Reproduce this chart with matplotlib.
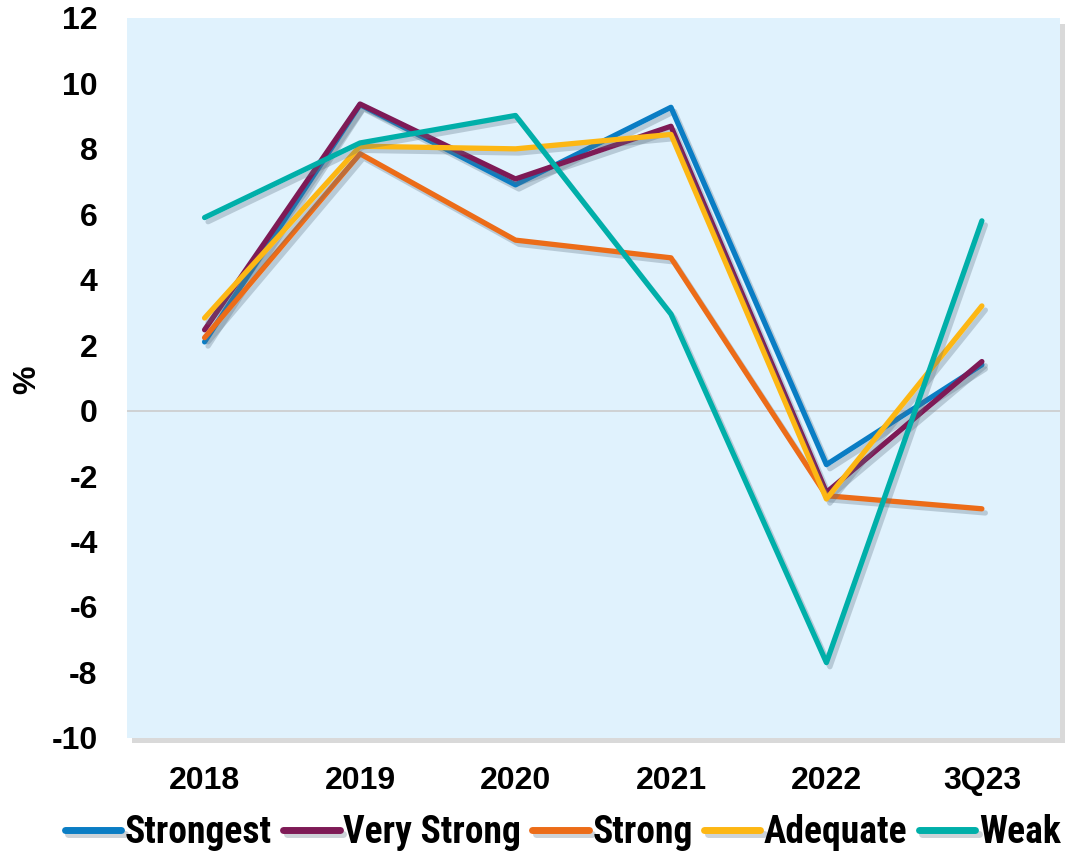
import matplotlib.pyplot as plt
import matplotlib.patheffects as pe

# series values (%)
periods = ["2018", "2019", "2020", "2021", "2022", "3Q23"]
strongest = [2.1, 9.35, 6.9, 9.27, -1.65, 1.4]
very_strong = [2.47, 9.37, 7.08, 8.69, -2.5, 1.5]
strong = [2.23, 7.85, 5.21, 4.67, -2.6, -3.0]
adequate = [2.83, 8.08, 8.0, 8.44, -2.7, 3.2]
weak = [5.9, 8.18, 9.02, 2.95, -7.7, 5.8]

names = ["Strongest", "Very Strong", "Strong", "Adequate", "Weak"]
colors = ["#0A7DC4", "#7E1A56", "#EC6C18", "#FDB714", "#00AFA9"]
series = [strongest, very_strong, strong, adequate, weak]

plt.rcParams["font.family"] = ["Liberation Sans Narrow", "Roboto Condensed", "Liberation Sans", "DejaVu Sans"]
plt.rcParams["font.weight"] = "bold"
plt.rcParams["axes.unicode_minus"] = False

fig = plt.figure(figsize=(10.66, 8.55), dpi=100)
ax = fig.add_axes([0.119, 0.137, 0.875, 0.842])
ax.set_facecolor("#E0F2FD")
ax.patch.set_path_effects([pe.SimplePatchShadow(offset=(4, -4), shadow_rgbFace="#a0a0a0", alpha=0.4),
                           pe.Normal()])

ax.axhline(0, color="#CCCCCC", lw=1.2, zorder=1)

x = range(len(periods))
for vals, name, c in zip(series, names, colors):
    ax.plot(x, vals, color=c, lw=3.8, label=name, solid_capstyle="round", zorder=3,
            path_effects=[pe.SimpleLineShadow(offset=(2.5, -3), shadow_color="#5a6f80", alpha=0.3),
                          pe.Normal()])

ax.set_xlim(-0.5, 5.5)
ax.set_ylim(-10, 12)
ax.set_yticks(range(-10, 13, 2))
ax.set_xticks(list(x))
ax.set_xticklabels(periods)
ax.tick_params(axis="y", length=0, labelsize=23, pad=21)
ax.tick_params(axis="x", length=0, labelsize=23, pad=20)
for s in ax.spines.values():
    s.set_visible(False)
for lab in ax.get_xticklabels() + ax.get_yticklabels():
    lab.set_fontfamily(["Liberation Sans", "DejaVu Sans"])
    lab.set_fontweight("bold")

fig.text(0.026, 0.556, "%", rotation=90, fontsize=23, fontweight="bold",
         family=["Liberation Sans", "DejaVu Sans"], ha="center", va="center")

leg = fig.legend(loc="center", bbox_to_anchor=(0.528, 0.026), ncol=5, frameon=False,
                 handlelength=1.5, handletextpad=0.1, columnspacing=0.3,
                 borderpad=0, prop={"weight": "bold", "size": 27})
for line in leg.get_lines():
    line.set_linewidth(5)

fig.savefig("out.png", dpi=100)
